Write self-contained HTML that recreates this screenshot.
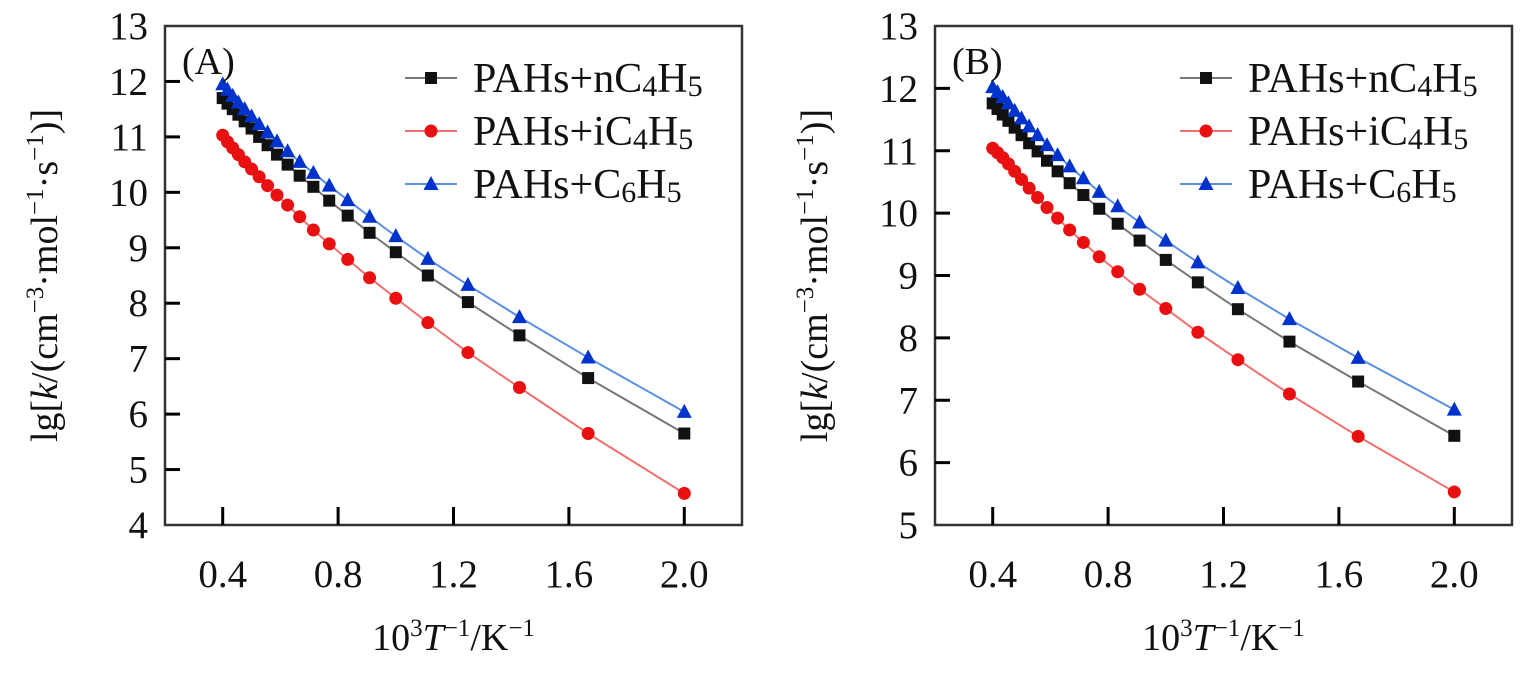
<!DOCTYPE html>
<html><head><meta charset="utf-8">
<style>
html,body{margin:0;padding:0;background:#fff;}
svg{display:block;font-family:"Liberation Serif",serif;}
</style></head>
<body>
<svg id="chart" width="1537" height="677" viewBox="0 0 1537 677" xmlns="http://www.w3.org/2000/svg"></svg>
<script>
const xVals = [0.4,0.4167,0.4348,0.4545,0.4762,0.5,0.5263,0.5556,0.5882,0.625,0.6667,0.7143,0.7692,0.8333,0.9091,1.0,1.1111,1.25,1.4286,1.6667,2.0];
const aN = [11.7,11.6,11.5,11.4,11.28,11.15,11.0,10.85,10.68,10.5,10.3,10.1,9.85,9.58,9.27,8.92,8.5,8.02,7.42,6.65,5.65];
const aI = [11.03,10.91,10.8,10.68,10.55,10.42,10.28,10.12,9.95,9.77,9.56,9.32,9.07,8.79,8.46,8.09,7.65,7.11,6.48,5.65,4.57];
const aC = [11.95,11.85,11.74,11.62,11.5,11.37,11.23,11.08,10.92,10.74,10.55,10.35,10.12,9.86,9.56,9.21,8.8,8.33,7.75,7.02,6.04];
const bN = [11.76,11.67,11.58,11.48,11.37,11.25,11.12,10.99,10.84,10.67,10.48,10.29,10.07,9.83,9.56,9.25,8.89,8.46,7.94,7.3,6.43];
const bI = [11.04,10.97,10.89,10.79,10.67,10.54,10.4,10.25,10.09,9.92,9.73,9.53,9.3,9.06,8.78,8.47,8.09,7.65,7.1,6.42,5.53];
const bC = [12.02,11.94,11.86,11.76,11.64,11.52,11.39,11.25,11.09,10.93,10.75,10.56,10.34,10.11,9.85,9.56,9.21,8.8,8.3,7.68,6.85];
const xTicks = [0.4,0.8,1.2,1.6,2.0];
const xTickLabels = ["0.4","0.8","1.2","1.6","2.0"];
const yTicksA = [4,5,6,7,8,9,10,11,12,13];
const yTicksB = [5,6,7,8,9,10,11,12,13];
const seriesNames = ["PAHs+nC4H5","PAHs+iC4H5","PAHs+C6H5"];

const NS="http://www.w3.org/2000/svg";
const svg=document.getElementById('chart');
function mk(tag,attrs,parent){const e=document.createElementNS(NS,tag);for(const k in attrs)e.setAttribute(k,attrs[k]);(parent||svg).appendChild(e);return e;}

function panel(id,L,R,T,B,ymin,ymax,series,label,yTicks,legX){
  const g=mk('g',{});
  
  
  const sx=v=>L+(v-0.2)/(2.2-0.2)*(R-L);
  const sy=v=>B-(v-ymin)/(ymax-ymin)*(B-T);
  const box=mk('rect',{x:L,y:T,width:R-L,height:B-T,fill:'none',stroke:'#333',"stroke-width":2.5},g);
  
  
  xTicks.forEach((t,i)=>{
    const x=sx(t);
    const tk=mk('line',{x1:x,x2:x,y1:B,y2:B-18,stroke:'#000',"stroke-width":3},g);
    
    
    const tx=mk('text',{x:x,y:B+62,"font-size":39,"text-anchor":"middle",fill:'#111'},g);
    tx.textContent=xTickLabels[i];
    
    
  });
  yTicks.forEach(t=>{
    const y=sy(t);
    if(t>ymin&&t<ymax){
      const tk=mk('line',{x1:L,x2:L+15,y1:y,y2:y,stroke:'#000',"stroke-width":3},g);
      
      
    }
    const tx=mk('text',{x:L-17,y:y+13,"font-size":39,"text-anchor":"end",fill:'#111'},g);
    tx.textContent=String(t);
    
    
  });
  const styles=[{line:'#777',fill:'#111',m:'sq'},{line:'#f07070',fill:'#e81010',m:'ci'},{line:'#5b8fe0',fill:'#0033cc',m:'tr'}];
  function marker(m,x,y,fill,parent){
    let e;
    if(m==='sq') e=mk('rect',{x:x-6,y:y-6,width:12,height:12,fill:fill},parent);
    else if(m==='ci') e=mk('circle',{cx:x,cy:y,r:6.5,fill:fill},parent);
    else e=mk('polygon',{points:`${x},${y-8} ${x-7.5},${y+6} ${x+7.5},${y+6}`,fill:fill},parent);
    return e;
  }
  series.forEach((s,k)=>{
    const st=styles[k];
    const sg=mk('g',{},g);
    
    
    const pts=xVals.map((x,i)=>sx(x)+','+sy(s[i])).join(' ');
    const pl=mk('polyline',{points:pts,fill:'none',stroke:st.line,"stroke-width":2},sg);
    
    
    xVals.forEach((x,i)=>{
      const m=marker(st.m,sx(x),sy(s[i]),st.fill,sg);
      
      
    });
    const ly=78+k*53;
    const lg=mk('g',{},g);
    
    
    mk('line',{x1:legX,x2:legX+52,y1:ly,y2:ly,stroke:st.line,"stroke-width":2},lg);
    marker(st.m,legX+26,ly,st.fill,lg);
    const t=mk('text',{x:legX+68,y:ly+14,"font-size":42,fill:'#111'},lg);
    const sub=['4','4','6'][k];
    const pre=['PAHs+nC','PAHs+iC','PAHs+C'][k];
    t.appendChild(document.createTextNode(pre));
    const ts=mk('tspan',{"font-size":30,dy:4},t);ts.textContent=sub;
    const th=mk('tspan',{dy:-4},t);th.textContent='H';
    const ts2=mk('tspan',{"font-size":30,dy:4},t);ts2.textContent='5';
  });
  const pl=mk('text',{x:L+17,y:T+48,"font-size":38,fill:'#111'},g);
  pl.textContent=label;
  
  
  const cy=(T+B)/2, cx=L-108;
  const yt=mk('text',{x:cx,y:cy,"font-size":38,"text-anchor":"middle",fill:'#111',transform:`rotate(-90 ${cx} ${cy})`},g);
  
  
  yt.innerHTML='lg[<tspan font-style="italic">k</tspan>/(cm<tspan font-size="25" dy="-14">−3</tspan><tspan dy="14">·mol</tspan><tspan font-size="25" dy="-14">−1</tspan><tspan dy="14">·s</tspan><tspan font-size="25" dy="-14">−1</tspan><tspan dy="14">)]</tspan>';
  const xt=mk('text',{x:(L+R)/2,y:B+125,"font-size":38,"text-anchor":"middle",fill:'#111'},g);
  
  
  xt.innerHTML='10<tspan font-size="25" dy="-14">3</tspan><tspan dy="14" font-style="italic">T</tspan><tspan font-size="25" dy="-14">−1</tspan><tspan dy="14">/K</tspan><tspan font-size="25" dy="-14">−1</tspan>';
}
panel('a',165,742,26,525,4,13,[aN,aI,aC],'(A)',yTicksA,405);
panel('b',935,1512,26,525,5,13,[bN,bI,bC],'(B)',yTicksB,1180);
</script>
</body></html>
